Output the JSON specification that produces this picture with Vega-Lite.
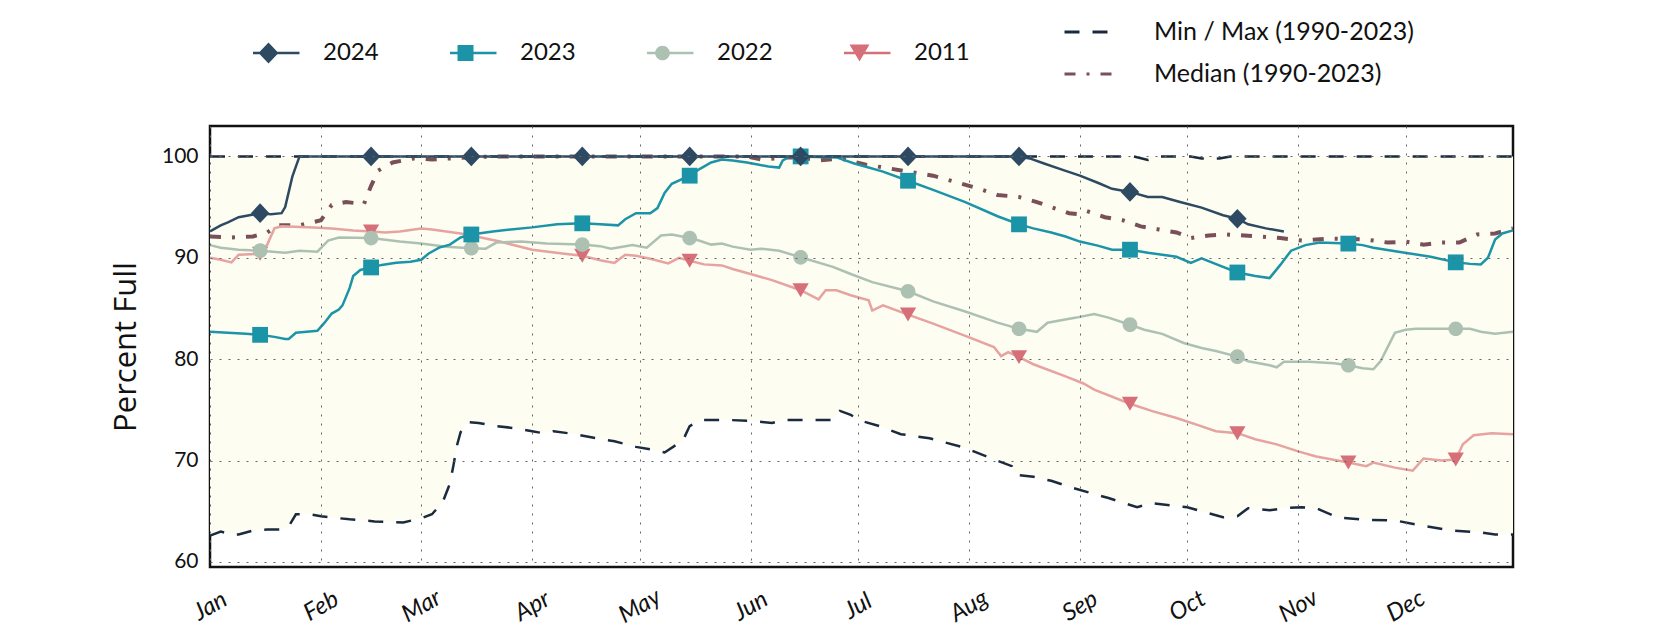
{
  "$schema": "https://vega.github.io/schema/vega-lite/v6.json",
  "width": 1303,
  "height": 441,
  "autosize": {"type": "none"},
  "padding": {"left": 210, "top": 126, "right": 167, "bottom": 63},
  "background": "white",
  "config": {
    "font": "Lato",
    "view": {"stroke": "#111111", "strokeWidth": 2.5},
    "axis": {"labelColor": "#111111", "titleColor": "#111111"},
    "legend": {"labelColor": "#111111"}
  },
  "datasets": {
    "years": [
      {"s":"2011","d":"2001-01-01","v":90.0},{"s":"2011","d":"2001-01-04","v":89.8},{"s":"2011","d":"2001-01-07","v":89.55},{"s":"2011","d":"2001-01-09","v":90.3},{"s":"2011","d":"2001-01-15","v":90.4},{"s":"2011","d":"2001-01-17","v":91.3},{"s":"2011","d":"2001-01-19","v":92.9},{"s":"2011","d":"2001-01-21","v":93.1},{"s":"2011","d":"2001-01-30","v":93.0},{"s":"2011","d":"2001-02-04","v":92.9},{"s":"2011","d":"2001-02-10","v":92.7},{"s":"2011","d":"2001-02-15","v":92.6},{"s":"2011","d":"2001-02-19","v":92.5},{"s":"2011","d":"2001-02-23","v":92.6},{"s":"2011","d":"2001-03-01","v":92.9},{"s":"2011","d":"2001-03-04","v":92.8},{"s":"2011","d":"2001-03-12","v":92.4},{"s":"2011","d":"2001-03-15","v":92.2},{"s":"2011","d":"2001-03-23","v":91.6},{"s":"2011","d":"2001-04-01","v":90.8},{"s":"2011","d":"2001-04-10","v":90.4},{"s":"2011","d":"2001-04-15","v":90.2},{"s":"2011","d":"2001-04-20","v":89.75},{"s":"2011","d":"2001-04-24","v":89.5},{"s":"2011","d":"2001-04-27","v":90.3},{"s":"2011","d":"2001-04-30","v":90.2},{"s":"2011","d":"2001-05-04","v":89.9},{"s":"2011","d":"2001-05-09","v":89.45},{"s":"2011","d":"2001-05-12","v":90.0},{"s":"2011","d":"2001-05-15","v":89.7},{"s":"2011","d":"2001-05-19","v":89.35},{"s":"2011","d":"2001-05-24","v":89.25},{"s":"2011","d":"2001-05-27","v":88.9},{"s":"2011","d":"2001-06-01","v":88.4},{"s":"2011","d":"2001-06-07","v":87.8},{"s":"2011","d":"2001-06-15","v":86.8},{"s":"2011","d":"2001-06-20","v":85.9},{"s":"2011","d":"2001-06-22","v":86.8},{"s":"2011","d":"2001-06-25","v":86.8},{"s":"2011","d":"2001-06-29","v":86.3},{"s":"2011","d":"2001-07-04","v":85.8},{"s":"2011","d":"2001-07-05","v":84.8},{"s":"2011","d":"2001-07-08","v":85.3},{"s":"2011","d":"2001-07-15","v":84.4},{"s":"2011","d":"2001-07-22","v":83.5},{"s":"2011","d":"2001-07-31","v":82.3},{"s":"2011","d":"2001-08-08","v":81.2},{"s":"2011","d":"2001-08-10","v":80.3},{"s":"2011","d":"2001-08-12","v":80.7},{"s":"2011","d":"2001-08-15","v":80.2},{"s":"2011","d":"2001-08-19","v":79.5},{"s":"2011","d":"2001-08-28","v":78.3},{"s":"2011","d":"2001-09-02","v":77.6},{"s":"2011","d":"2001-09-05","v":77.0},{"s":"2011","d":"2001-09-15","v":75.6},{"s":"2011","d":"2001-09-21","v":74.9},{"s":"2011","d":"2001-09-28","v":74.2},{"s":"2011","d":"2001-10-04","v":73.5},{"s":"2011","d":"2001-10-09","v":72.9},{"s":"2011","d":"2001-10-15","v":72.7},{"s":"2011","d":"2001-10-20","v":72.1},{"s":"2011","d":"2001-10-26","v":71.6},{"s":"2011","d":"2001-11-01","v":70.9},{"s":"2011","d":"2001-11-06","v":70.4},{"s":"2011","d":"2001-11-15","v":69.8},{"s":"2011","d":"2001-11-20","v":69.45},{"s":"2011","d":"2001-11-22","v":69.8},{"s":"2011","d":"2001-11-28","v":69.3},{"s":"2011","d":"2001-12-03","v":69.0},{"s":"2011","d":"2001-12-06","v":70.2},{"s":"2011","d":"2001-12-11","v":70.0},{"s":"2011","d":"2001-12-15","v":70.1},{"s":"2011","d":"2001-12-17","v":71.6},{"s":"2011","d":"2001-12-20","v":72.5},{"s":"2011","d":"2001-12-25","v":72.7},{"s":"2011","d":"2001-12-31","v":72.6},
      {"s":"2022","d":"2001-01-01","v":91.25},{"s":"2022","d":"2001-01-04","v":91.0},{"s":"2022","d":"2001-01-09","v":90.8},{"s":"2022","d":"2001-01-15","v":90.7},{"s":"2022","d":"2001-01-22","v":90.5},{"s":"2022","d":"2001-01-26","v":90.7},{"s":"2022","d":"2001-01-31","v":90.6},{"s":"2022","d":"2001-02-03","v":91.7},{"s":"2022","d":"2001-02-06","v":92.0},{"s":"2022","d":"2001-02-15","v":91.95},{"s":"2022","d":"2001-02-23","v":91.6},{"s":"2022","d":"2001-03-01","v":91.4},{"s":"2022","d":"2001-03-08","v":91.1},{"s":"2022","d":"2001-03-15","v":90.95},{"s":"2022","d":"2001-03-19","v":90.9},{"s":"2022","d":"2001-03-22","v":91.5},{"s":"2022","d":"2001-03-29","v":91.6},{"s":"2022","d":"2001-04-05","v":91.4},{"s":"2022","d":"2001-04-15","v":91.3},{"s":"2022","d":"2001-04-20","v":91.15},{"s":"2022","d":"2001-04-23","v":90.9},{"s":"2022","d":"2001-04-29","v":91.25},{"s":"2022","d":"2001-05-03","v":91.0},{"s":"2022","d":"2001-05-07","v":92.2},{"s":"2022","d":"2001-05-10","v":92.3},{"s":"2022","d":"2001-05-15","v":91.95},{"s":"2022","d":"2001-05-18","v":91.65},{"s":"2022","d":"2001-05-21","v":91.3},{"s":"2022","d":"2001-05-24","v":91.4},{"s":"2022","d":"2001-05-27","v":91.1},{"s":"2022","d":"2001-06-01","v":90.8},{"s":"2022","d":"2001-06-04","v":90.9},{"s":"2022","d":"2001-06-09","v":90.7},{"s":"2022","d":"2001-06-15","v":90.05},{"s":"2022","d":"2001-06-24","v":89.1},{"s":"2022","d":"2001-06-29","v":88.4},{"s":"2022","d":"2001-07-05","v":87.6},{"s":"2022","d":"2001-07-15","v":86.7},{"s":"2022","d":"2001-07-22","v":85.7},{"s":"2022","d":"2001-07-31","v":84.7},{"s":"2022","d":"2001-08-09","v":83.6},{"s":"2022","d":"2001-08-15","v":83.0},{"s":"2022","d":"2001-08-20","v":82.7},{"s":"2022","d":"2001-08-23","v":83.6},{"s":"2022","d":"2001-08-26","v":83.8},{"s":"2022","d":"2001-08-31","v":84.1},{"s":"2022","d":"2001-09-05","v":84.45},{"s":"2022","d":"2001-09-09","v":84.1},{"s":"2022","d":"2001-09-15","v":83.4},{"s":"2022","d":"2001-09-19","v":82.9},{"s":"2022","d":"2001-09-24","v":82.5},{"s":"2022","d":"2001-09-30","v":81.6},{"s":"2022","d":"2001-10-05","v":81.1},{"s":"2022","d":"2001-10-09","v":80.8},{"s":"2022","d":"2001-10-15","v":80.25},{"s":"2022","d":"2001-10-18","v":79.8},{"s":"2022","d":"2001-10-24","v":79.4},{"s":"2022","d":"2001-10-26","v":79.2},{"s":"2022","d":"2001-10-28","v":79.75},{"s":"2022","d":"2001-11-04","v":79.75},{"s":"2022","d":"2001-11-11","v":79.6},{"s":"2022","d":"2001-11-15","v":79.4},{"s":"2022","d":"2001-11-19","v":79.1},{"s":"2022","d":"2001-11-22","v":79.0},{"s":"2022","d":"2001-11-24","v":79.8},{"s":"2022","d":"2001-11-28","v":82.6},{"s":"2022","d":"2001-12-01","v":82.9},{"s":"2022","d":"2001-12-04","v":83.0},{"s":"2022","d":"2001-12-15","v":83.0},{"s":"2022","d":"2001-12-19","v":83.0},{"s":"2022","d":"2001-12-22","v":82.7},{"s":"2022","d":"2001-12-26","v":82.5},{"s":"2022","d":"2001-12-31","v":82.7},
      {"s":"2023","d":"2001-01-01","v":82.7},{"s":"2023","d":"2001-01-06","v":82.6},{"s":"2023","d":"2001-01-11","v":82.5},{"s":"2023","d":"2001-01-15","v":82.4},{"s":"2023","d":"2001-01-19","v":82.2},{"s":"2023","d":"2001-01-22","v":82.0},{"s":"2023","d":"2001-01-23","v":82.0},{"s":"2023","d":"2001-01-25","v":82.6},{"s":"2023","d":"2001-01-28","v":82.7},{"s":"2023","d":"2001-01-31","v":82.8},{"s":"2023","d":"2001-02-02","v":83.6},{"s":"2023","d":"2001-02-04","v":84.5},{"s":"2023","d":"2001-02-06","v":84.9},{"s":"2023","d":"2001-02-07","v":85.3},{"s":"2023","d":"2001-02-09","v":87.0},{"s":"2023","d":"2001-02-10","v":88.2},{"s":"2023","d":"2001-02-12","v":88.8},{"s":"2023","d":"2001-02-15","v":89.05},{"s":"2023","d":"2001-02-18","v":89.3},{"s":"2023","d":"2001-02-22","v":89.5},{"s":"2023","d":"2001-02-26","v":89.6},{"s":"2023","d":"2001-03-01","v":89.8},{"s":"2023","d":"2001-03-03","v":90.4},{"s":"2023","d":"2001-03-06","v":91.0},{"s":"2023","d":"2001-03-09","v":91.3},{"s":"2023","d":"2001-03-12","v":92.0},{"s":"2023","d":"2001-03-15","v":92.3},{"s":"2023","d":"2001-03-21","v":92.6},{"s":"2023","d":"2001-03-26","v":92.8},{"s":"2023","d":"2001-04-01","v":93.0},{"s":"2023","d":"2001-04-08","v":93.3},{"s":"2023","d":"2001-04-15","v":93.4},{"s":"2023","d":"2001-04-20","v":93.3},{"s":"2023","d":"2001-04-25","v":93.2},{"s":"2023","d":"2001-04-27","v":93.8},{"s":"2023","d":"2001-04-30","v":94.4},{"s":"2023","d":"2001-05-04","v":94.4},{"s":"2023","d":"2001-05-06","v":94.9},{"s":"2023","d":"2001-05-08","v":96.4},{"s":"2023","d":"2001-05-10","v":97.3},{"s":"2023","d":"2001-05-15","v":98.1},{"s":"2023","d":"2001-05-18","v":98.8},{"s":"2023","d":"2001-05-21","v":99.4},{"s":"2023","d":"2001-05-24","v":99.7},{"s":"2023","d":"2001-05-27","v":99.6},{"s":"2023","d":"2001-05-31","v":99.4},{"s":"2023","d":"2001-06-03","v":99.2},{"s":"2023","d":"2001-06-06","v":99.0},{"s":"2023","d":"2001-06-09","v":98.9},{"s":"2023","d":"2001-06-10","v":99.6},{"s":"2023","d":"2001-06-12","v":100},{"s":"2023","d":"2001-06-15","v":100},{"s":"2023","d":"2001-06-25","v":99.9},{"s":"2023","d":"2001-06-30","v":99.3},{"s":"2023","d":"2001-07-03","v":99.0},{"s":"2023","d":"2001-07-08","v":98.5},{"s":"2023","d":"2001-07-15","v":97.6},{"s":"2023","d":"2001-07-22","v":96.7},{"s":"2023","d":"2001-07-31","v":95.5},{"s":"2023","d":"2001-08-09","v":94.1},{"s":"2023","d":"2001-08-15","v":93.3},{"s":"2023","d":"2001-08-19","v":92.9},{"s":"2023","d":"2001-08-24","v":92.5},{"s":"2023","d":"2001-08-28","v":92.1},{"s":"2023","d":"2001-09-01","v":91.6},{"s":"2023","d":"2001-09-06","v":91.2},{"s":"2023","d":"2001-09-10","v":90.8},{"s":"2023","d":"2001-09-15","v":90.8},{"s":"2023","d":"2001-09-20","v":90.5},{"s":"2023","d":"2001-09-28","v":90.1},{"s":"2023","d":"2001-10-02","v":89.5},{"s":"2023","d":"2001-10-05","v":89.95},{"s":"2023","d":"2001-10-11","v":89.1},{"s":"2023","d":"2001-10-15","v":88.55},{"s":"2023","d":"2001-10-20","v":88.2},{"s":"2023","d":"2001-10-24","v":88.0},{"s":"2023","d":"2001-10-27","v":89.3},{"s":"2023","d":"2001-10-30","v":90.7},{"s":"2023","d":"2001-11-03","v":91.25},{"s":"2023","d":"2001-11-07","v":91.5},{"s":"2023","d":"2001-11-15","v":91.4},{"s":"2023","d":"2001-11-19","v":91.25},{"s":"2023","d":"2001-11-22","v":91.0},{"s":"2023","d":"2001-11-29","v":90.6},{"s":"2023","d":"2001-12-08","v":90.1},{"s":"2023","d":"2001-12-15","v":89.55},{"s":"2023","d":"2001-12-19","v":89.4},{"s":"2023","d":"2001-12-22","v":89.35},{"s":"2023","d":"2001-12-24","v":90.0},{"s":"2023","d":"2001-12-26","v":91.8},{"s":"2023","d":"2001-12-28","v":92.4},{"s":"2023","d":"2001-12-31","v":92.7},
      {"s":"2024","d":"2001-01-01","v":92.6},{"s":"2024","d":"2001-01-04","v":93.2},{"s":"2024","d":"2001-01-06","v":93.5},{"s":"2024","d":"2001-01-09","v":94.0},{"s":"2024","d":"2001-01-12","v":94.2},{"s":"2024","d":"2001-01-15","v":94.4},{"s":"2024","d":"2001-01-18","v":94.3},{"s":"2024","d":"2001-01-21","v":94.4},{"s":"2024","d":"2001-01-22","v":95.0},{"s":"2024","d":"2001-01-23","v":96.5},{"s":"2024","d":"2001-01-24","v":98.0},{"s":"2024","d":"2001-01-26","v":100},{"s":"2024","d":"2001-02-15","v":100},{"s":"2024","d":"2001-03-15","v":100},{"s":"2024","d":"2001-04-15","v":100},{"s":"2024","d":"2001-05-15","v":100},{"s":"2024","d":"2001-06-15","v":100},{"s":"2024","d":"2001-07-15","v":100},{"s":"2024","d":"2001-08-15","v":100},{"s":"2024","d":"2001-08-18","v":99.8},{"s":"2024","d":"2001-08-22","v":99.3},{"s":"2024","d":"2001-08-27","v":98.7},{"s":"2024","d":"2001-09-01","v":98.1},{"s":"2024","d":"2001-09-06","v":97.4},{"s":"2024","d":"2001-09-10","v":96.8},{"s":"2024","d":"2001-09-15","v":96.5},{"s":"2024","d":"2001-09-20","v":96.0},{"s":"2024","d":"2001-09-24","v":96.0},{"s":"2024","d":"2001-09-29","v":95.5},{"s":"2024","d":"2001-10-05","v":94.95},{"s":"2024","d":"2001-10-11","v":94.2},{"s":"2024","d":"2001-10-15","v":93.85},{"s":"2024","d":"2001-10-18","v":93.3},{"s":"2024","d":"2001-10-23","v":92.9},{"s":"2024","d":"2001-10-28","v":92.6}
    ],
    "ref": [
      {"k":"min","d":"2001-01-01","v":62.6},{"k":"min","d":"2001-01-04","v":63.0},{"k":"min","d":"2001-01-07","v":62.7},{"k":"min","d":"2001-01-09","v":62.7},{"k":"min","d":"2001-01-13","v":63.1},{"k":"min","d":"2001-01-17","v":63.2},{"k":"min","d":"2001-01-21","v":63.2},{"k":"min","d":"2001-01-23","v":63.5},{"k":"min","d":"2001-01-25","v":64.7},{"k":"min","d":"2001-01-29","v":64.7},{"k":"min","d":"2001-02-01","v":64.5},{"k":"min","d":"2001-02-09","v":64.2},{"k":"min","d":"2001-02-16","v":64.0},{"k":"min","d":"2001-02-24","v":63.9},{"k":"min","d":"2001-03-01","v":64.3},{"k":"min","d":"2001-03-04","v":64.7},{"k":"min","d":"2001-03-07","v":65.9},{"k":"min","d":"2001-03-09","v":67.7},{"k":"min","d":"2001-03-10","v":69.5},{"k":"min","d":"2001-03-11","v":71.5},{"k":"min","d":"2001-03-12","v":72.8},{"k":"min","d":"2001-03-14","v":73.8},{"k":"min","d":"2001-03-17","v":73.7},{"k":"min","d":"2001-03-22","v":73.4},{"k":"min","d":"2001-03-27","v":73.2},{"k":"min","d":"2001-04-01","v":72.9},{"k":"min","d":"2001-04-04","v":72.7},{"k":"min","d":"2001-04-07","v":72.9},{"k":"min","d":"2001-04-13","v":72.6},{"k":"min","d":"2001-04-19","v":72.2},{"k":"min","d":"2001-04-24","v":71.9},{"k":"min","d":"2001-04-30","v":71.35},{"k":"min","d":"2001-05-04","v":71.1},{"k":"min","d":"2001-05-08","v":70.8},{"k":"min","d":"2001-05-11","v":71.5},{"k":"min","d":"2001-05-13","v":71.9},{"k":"min","d":"2001-05-15","v":73.4},{"k":"min","d":"2001-05-18","v":74.0},{"k":"min","d":"2001-05-26","v":74.0},{"k":"min","d":"2001-06-02","v":73.9},{"k":"min","d":"2001-06-07","v":73.7},{"k":"min","d":"2001-06-10","v":74.0},{"k":"min","d":"2001-06-20","v":74.0},{"k":"min","d":"2001-06-24","v":74.0},{"k":"min","d":"2001-06-26","v":74.9},{"k":"min","d":"2001-06-29","v":74.5},{"k":"min","d":"2001-07-02","v":73.9},{"k":"min","d":"2001-07-07","v":73.4},{"k":"min","d":"2001-07-13","v":72.6},{"k":"min","d":"2001-07-21","v":72.2},{"k":"min","d":"2001-07-31","v":71.25},{"k":"min","d":"2001-08-08","v":70.1},{"k":"min","d":"2001-08-13","v":69.45},{"k":"min","d":"2001-08-14","v":68.6},{"k":"min","d":"2001-08-19","v":68.4},{"k":"min","d":"2001-08-24","v":68.0},{"k":"min","d":"2001-08-30","v":67.3},{"k":"min","d":"2001-09-09","v":66.3},{"k":"min","d":"2001-09-17","v":65.4},{"k":"min","d":"2001-09-21","v":65.8},{"k":"min","d":"2001-10-01","v":65.4},{"k":"min","d":"2001-10-11","v":64.4},{"k":"min","d":"2001-10-15","v":64.5},{"k":"min","d":"2001-10-18","v":65.3},{"k":"min","d":"2001-10-24","v":65.1},{"k":"min","d":"2001-10-28","v":65.3},{"k":"min","d":"2001-11-02","v":65.4},{"k":"min","d":"2001-11-06","v":65.3},{"k":"min","d":"2001-11-12","v":64.4},{"k":"min","d":"2001-11-20","v":64.15},{"k":"min","d":"2001-11-28","v":64.1},{"k":"min","d":"2001-12-06","v":63.55},{"k":"min","d":"2001-12-14","v":63.1},{"k":"min","d":"2001-12-22","v":62.9},{"k":"min","d":"2001-12-26","v":62.7},{"k":"min","d":"2001-12-31","v":62.7},
      {"k":"max","d":"2001-01-01","v":100},{"k":"max","d":"2001-09-16","v":100},{"k":"max","d":"2001-09-20","v":99.65},{"k":"max","d":"2001-09-23","v":100},{"k":"max","d":"2001-10-02","v":100},{"k":"max","d":"2001-10-05","v":99.8},{"k":"max","d":"2001-10-10","v":99.8},{"k":"max","d":"2001-10-13","v":100},{"k":"max","d":"2001-12-31","v":100},
      {"k":"med","d":"2001-01-01","v":92.1},{"k":"med","d":"2001-01-07","v":92.0},{"k":"med","d":"2001-01-13","v":92.1},{"k":"med","d":"2001-01-17","v":92.5},{"k":"med","d":"2001-01-20","v":93.2},{"k":"med","d":"2001-01-26","v":93.2},{"k":"med","d":"2001-02-01","v":93.7},{"k":"med","d":"2001-02-04","v":95.2},{"k":"med","d":"2001-02-08","v":95.5},{"k":"med","d":"2001-02-13","v":95.3},{"k":"med","d":"2001-02-15","v":97.1},{"k":"med","d":"2001-02-17","v":98.6},{"k":"med","d":"2001-02-21","v":99.4},{"k":"med","d":"2001-02-27","v":99.8},{"k":"med","d":"2001-03-04","v":99.7},{"k":"med","d":"2001-03-14","v":99.9},{"k":"med","d":"2001-03-22","v":100},{"k":"med","d":"2001-05-31","v":100},{"k":"med","d":"2001-06-04","v":99.7},{"k":"med","d":"2001-06-08","v":99.8},{"k":"med","d":"2001-06-11","v":99.9},{"k":"med","d":"2001-06-15","v":99.9},{"k":"med","d":"2001-06-20","v":99.6},{"k":"med","d":"2001-06-26","v":99.8},{"k":"med","d":"2001-07-03","v":99.2},{"k":"med","d":"2001-07-10","v":98.8},{"k":"med","d":"2001-07-15","v":98.5},{"k":"med","d":"2001-07-22","v":98.1},{"k":"med","d":"2001-07-26","v":97.7},{"k":"med","d":"2001-08-04","v":96.8},{"k":"med","d":"2001-08-09","v":96.2},{"k":"med","d":"2001-08-15","v":96.0},{"k":"med","d":"2001-08-20","v":95.5},{"k":"med","d":"2001-08-24","v":95.0},{"k":"med","d":"2001-08-29","v":94.4},{"k":"med","d":"2001-09-01","v":94.3},{"k":"med","d":"2001-09-03","v":94.6},{"k":"med","d":"2001-09-08","v":94.0},{"k":"med","d":"2001-09-13","v":93.7},{"k":"med","d":"2001-09-18","v":93.1},{"k":"med","d":"2001-09-23","v":92.8},{"k":"med","d":"2001-09-28","v":92.5},{"k":"med","d":"2001-10-02","v":91.95},{"k":"med","d":"2001-10-07","v":92.2},{"k":"med","d":"2001-10-12","v":92.3},{"k":"med","d":"2001-10-17","v":92.2},{"k":"med","d":"2001-10-27","v":91.95},{"k":"med","d":"2001-11-02","v":91.7},{"k":"med","d":"2001-11-10","v":91.9},{"k":"med","d":"2001-11-20","v":91.8},{"k":"med","d":"2001-11-26","v":91.5},{"k":"med","d":"2001-12-01","v":91.6},{"k":"med","d":"2001-12-06","v":91.3},{"k":"med","d":"2001-12-11","v":91.5},{"k":"med","d":"2001-12-16","v":91.5},{"k":"med","d":"2001-12-21","v":92.3},{"k":"med","d":"2001-12-26","v":92.4},{"k":"med","d":"2001-12-31","v":92.9}
    ]
  },
  "encoding": {
    "x": {
      "field": "d", "type": "temporal",
      "scale": {"type": "utc", "nice": false, "domain": [{"year": 2001, "month": 1, "date": 1, "utc": true}, {"year": 2001, "month": 12, "date": 31, "utc": true}]},
      "axis": {
        "title": null,
        "values": [
          {"year": 2001, "month": 1, "date": 1, "utc": true}, {"year": 2001, "month": 2, "date": 1, "utc": true},
          {"year": 2001, "month": 3, "date": 1, "utc": true}, {"year": 2001, "month": 4, "date": 1, "utc": true},
          {"year": 2001, "month": 5, "date": 1, "utc": true}, {"year": 2001, "month": 6, "date": 1, "utc": true},
          {"year": 2001, "month": 7, "date": 1, "utc": true}, {"year": 2001, "month": 8, "date": 1, "utc": true},
          {"year": 2001, "month": 9, "date": 1, "utc": true}, {"year": 2001, "month": 10, "date": 1, "utc": true},
          {"year": 2001, "month": 11, "date": 1, "utc": true}, {"year": 2001, "month": 12, "date": 1, "utc": true}
        ],
        "labelExpr": "utcFormat(datum.value, '%b')",
        "labelAngle": -30, "labelAlign": "center", "labelBaseline": "middle", "labelPadding": 39,
        "labelFontSize": 24, "labelFontStyle": "italic", "labelFlush": false, "labelOverlap": false,
        "ticks": false, "tickSize": 0, "domain": false,
        "grid": true, "gridColor": "#666666", "gridDash": [2, 7], "gridWidth": 1,
        "zindex": 1
      }
    },
    "y": {
      "field": "v", "type": "quantitative",
      "scale": {"domain": [59.5, 103], "nice": false, "zero": false},
      "axis": {
        "title": "Percent Full", "titleFont": "Open Sans", "titleFontSize": 31, "titleFontWeight": "normal",
        "titleX": -84, "titleY": 220.5, "titleAngle": 270, "titleAlign": "center", "titleBaseline": "middle",
        "values": [60, 70, 80, 90, 100],
        "labelFontSize": 21, "labelPadding": 12, "labelFlush": false,
        "ticks": false, "tickSize": 0, "domain": false,
        "grid": true, "gridColor": "#666666", "gridDash": [2, 7], "gridWidth": 1,
        "zindex": 1
      }
    }
  },
  "layer": [
    {
      "data": {"name": "ref", "format": {"parse": {"d": "date"}}},
      "transform": [{"filter": "datum.k == 'min'"}],
      "mark": {"type": "area", "fill": "#fdfdf2", "opacity": 1},
      "encoding": {"y2": {"datum": 100}}
    },
    {
      "data": {"name": "ref", "format": {"parse": {"d": "date"}}},
      "transform": [{"filter": "datum.k == 'min' || datum.k == 'max'"}],
      "mark": {"type": "line", "strokeWidth": 2.5, "strokeCap": "butt"},
      "encoding": {
        "detail": {"field": "k"},
        "color": {
          "datum": "Min / Max (1990-2023)",
          "scale": {"domain": ["Min / Max (1990-2023)", "Median (1990-2023)"], "range": ["#1b2a3e", "#7a5058"]},
          "legend": {"title": null, "orient": "none", "legendX": 853, "legendY": -109, "direction": "vertical", "symbolType": "stroke", "symbolSize": 2304, "symbolStrokeWidth": 3, "labelFontSize": 25, "labelOffset": 40, "rowPadding": 12, "clipHeight": 30, "padding": 0, "labelLimit": 400}
        },
        "strokeDash": {
          "datum": "Min / Max (1990-2023)",
          "scale": {"domain": ["Min / Max (1990-2023)", "Median (1990-2023)"], "range": [[15, 13], [11, 11, 3, 11]]},
          "legend": {"title": null, "orient": "none", "legendX": 853, "legendY": -109, "direction": "vertical", "symbolType": "stroke", "symbolSize": 2304, "symbolStrokeWidth": 3, "labelFontSize": 25, "labelOffset": 40, "rowPadding": 12, "clipHeight": 30, "padding": 0, "labelLimit": 400}
        }
      }
    },
    {
      "data": {"name": "ref", "format": {"parse": {"d": "date"}}},
      "transform": [{"filter": "datum.k == 'med'"}],
      "mark": {"type": "line", "strokeWidth": 4, "strokeCap": "butt"},
      "encoding": {
        "color": {"datum": "Median (1990-2023)"},
        "strokeDash": {"datum": "Median (1990-2023)"}
      }
    },
    {
      "data": {"name": "years", "format": {"parse": {"d": "date"}}},
      "mark": {"type": "line", "strokeWidth": 2.5},
      "encoding": {
        "stroke": {
          "field": "s", "type": "nominal",
          "scale": {"domain": ["2011", "2022", "2023", "2024"], "range": ["#e6a3a0", "#adc1b3", "#1b94a7", "#2e4a62"]},
          "legend": null
        }
      }
    },
    {
      "data": {"name": "years", "format": {"parse": {"d": "date"}}},
      "transform": [{"filter": "utcdate(datum.d) == 15"}],
      "mark": {"type": "point", "filled": true, "size": 240, "opacity": 1, "strokeWidth": 0},
      "encoding": {
        "fill": {
          "field": "s", "type": "nominal",
          "scale": {"domain": ["2024", "2023", "2022", "2011"], "range": ["#2e4a62", "#1b94a7", "#adc1b3", "#d66f78"]},
          "legend": {
            "title": null, "orient": "none", "legendX": 43, "legendY": -88, "direction": "horizontal",
            "symbolSize": 961, "symbolStrokeWidth": 0, "labelFontSize": 24, "labelOffset": 39, "columnPadding": 71, "clipHeight": 30, "padding": 0, "labelLimit": 200,
            "symbolType": {"expr": "datum.value === '2024' ? 'M-2,-0.08H2V0.08H-2Z M0,-0.677L0.645,0L0,0.677L-0.645,0Z' : datum.value === '2023' ? 'M-2,-0.08H2V0.08H-2Z M-0.516,-0.516H0.516V0.516H-0.516Z' : datum.value === '2022' ? 'M-2,-0.08H2V0.08H-2Z M-0.474,0A0.474,0.474,0,1,1,0.474,0A0.474,0.474,0,1,1,-0.474,0Z' : 'M-2,-0.08H2V0.08H-2Z M-0.645,-0.55H0.645L0,0.55Z'"}
          }
        },
        "shape": {
          "field": "s", "type": "nominal",
          "scale": {"domain": ["2011", "2022", "2023", "2024"], "range": [
            "M-1.05,-0.9H1.05L0,0.9Z",
            "M-0.95,0A0.95,0.95,0,1,1,0.95,0A0.95,0.95,0,1,1,-0.95,0Z",
            "M-1.02,-1.02H1.02V1.02H-1.02Z",
            "M0,-1.27L1.2,0L0,1.27L-1.2,0Z"
          ]},
          "legend": null
        }
      }
    }
  ]
}
